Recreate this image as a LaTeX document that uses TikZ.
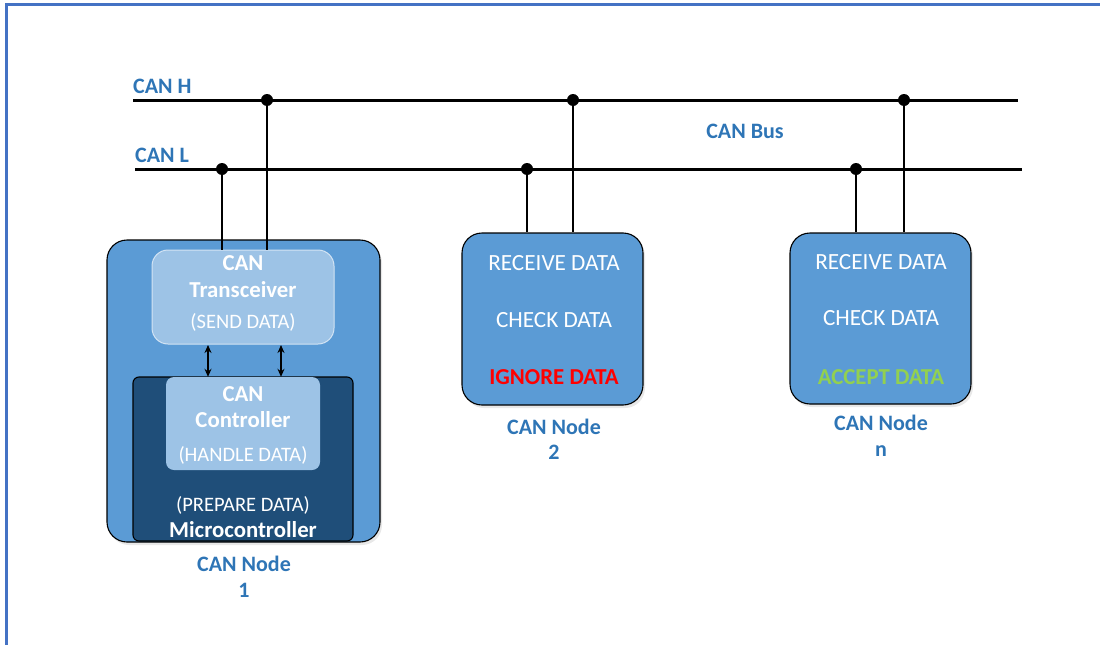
\documentclass[tikz,border=0pt]{standalone}
\usepackage{fontspec}
\setmainfont{Carlito}
\usetikzlibrary{arrows.meta,shadows}
\definecolor{framebl}{HTML}{4472C4}
\definecolor{lblblue}{HTML}{2E75B6}
\definecolor{nodebl}{HTML}{5B9BD5}
\definecolor{lightbl}{HTML}{9DC3E6}
\definecolor{darkbl}{HTML}{1F4E79}
\definecolor{okgreen}{HTML}{92D050}
\definecolor{badred}{HTML}{FF0000}

\begin{document}
\begin{tikzpicture}[x=1pt,y=-1pt,
  lbl/.style={font=\fontsize{22}{25}\selectfont\bfseries, text=lblblue, inner sep=0pt, anchor=base},
  wbold/.style={font=\fontsize{22.8}{26}\selectfont\bfseries, text=white, inner sep=0pt, anchor=base},
  wsmall/.style={font=\fontsize{20.5}{24}\selectfont, text=white, inner sep=0pt, anchor=base},
  wtext/.style={font=\fontsize{23.2}{26}\selectfont, text=white, inner sep=0pt, anchor=base},
  status/.style={font=\fontsize{22.8}{26}\selectfont\bfseries, inner sep=0pt, anchor=base},
  nodebox/.style={draw=black, line width=1.1pt, fill=nodebl, rounded corners=20pt,
    minimum width=#1, inner sep=0pt,
    drop shadow={opacity=0.18, shadow xshift=2pt, shadow yshift=-3pt}},
  busline/.style={line width=3pt},
  tap/.style={line width=1.8pt},
  junction/.style={circle, fill=black, inner sep=0pt, minimum size=12pt},
  link/.style={line width=1.4pt, {Stealth[length=8pt,width=7pt]}-{Stealth[length=8pt,width=7pt]}}
]
\useasboundingbox (0,0) rectangle (1100,645);

% page frame
\draw[framebl, line width=3pt] (6,645) -- (6,4) -- (1100,4);

% CAN bus lines
\coordinate (hA) at (133,100);
\coordinate (hB) at (1018,100);
\coordinate (lA) at (135,169);
\coordinate (lB) at (1022,169);
\draw[busline] (hA) -- (hB);
\draw[busline] (lA) -- (lB);
\node[lbl, anchor=base west] (canh) at (133,93) {CAN H};
\node[lbl, anchor=base west] (canl) at (135,162) {CAN L};
\node[lbl] (canbus) at (745,138) {CAN Bus};

% ---- CAN node 1 ----
\node[nodebox=273pt, minimum height=302pt] (n1) at (243.5,391) {};
\node[draw=black, line width=1.1pt, fill=darkbl, rounded corners=6pt,
      minimum width=220pt, minimum height=164pt, inner sep=0pt] (mc) at (243,459) {};
\node[draw=white!55!lightbl, line width=1pt, fill=lightbl, rounded corners=16pt,
      minimum width=182pt, minimum height=94pt, inner sep=0pt] (tr) at (243,297) {};
\node[fill=lightbl, rounded corners=8pt,
      minimum width=154pt, minimum height=93pt, inner sep=0pt] (ctl) at (243,423.5) {};

\node[wbold] (trA) at (243,270) {CAN};
\node[wbold] (trB) at (243,297) {Transceiver};
\node[wsmall] (trC) at (243,328) {(SEND DATA)};
\node[wbold] (ctA) at (243,401) {CAN};
\node[wbold] (ctB) at (243,427) {Controller};
\node[wsmall] (ctC) at (243,461) {(HANDLE DATA)};
\node[wsmall] (mcA) at (243,511) {(PREPARE DATA)};
\node[wbold] (mcB) at (243,537) {Microcontroller};
\node[lbl] (n1a) at (244,571) {CAN Node};
\node[lbl] (n1b) at (244,597) {1};

\coordinate (t1) at (208,345);
\coordinate (t2) at (281,345);
\draw[link] (t1) -- (t1 |- ctl.north);
\draw[link] (t2) -- (t2 |- ctl.north);

% ---- CAN node 2 ----
\node[nodebox=181pt, minimum height=172pt] (n2) at (552.5,319) {};
\node[wtext] (n2a) at (554,270) {RECEIVE DATA};
\node[wtext] (n2b) at (554,327) {CHECK DATA};
\node[status, text=badred] (n2c) at (554,384) {IGNORE DATA};
\node[lbl] (n2d) at (554,434) {CAN Node};
\node[lbl] (n2e) at (554,459) {2};

% ---- CAN node n ----
\node[nodebox=181pt, minimum height=171pt] (nn) at (880.5,318.5) {};
\node[wtext] (nna) at (881,269) {RECEIVE DATA};
\node[wtext] (nnb) at (881,325) {CHECK DATA};
\node[status, text=okgreen] (nnc) at (881,384) {ACCEPT DATA};
\node[lbl] (nnd) at (881,430) {CAN Node};
\node[lbl] (nne) at (881,456) {n};

% bus taps with junction dots
\node[junction] (h1) at (267,100) {};
\node[junction] (l1) at (222,169) {};
\node[junction] (h2) at (573,100) {};
\node[junction] (l2) at (527,169) {};
\node[junction] (h3) at (904,100) {};
\node[junction] (l3) at (856,169) {};
\draw[tap] (h1.center) -- (h1.center |- tr.north);
\draw[tap] (l1.center) -- (l1.center |- tr.north);
\draw[tap] (h2.center) -- (h2.center |- n2.north);
\draw[tap] (l2.center) -- (l2.center |- n2.north);
\draw[tap] (h3.center) -- (h3.center |- nn.north);
\draw[tap] (l3.center) -- (l3.center |- nn.north);
\end{tikzpicture}
\end{document}
